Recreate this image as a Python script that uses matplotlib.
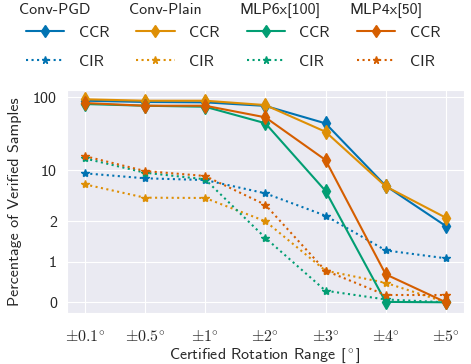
import numpy as np
import matplotlib.pyplot as plt
import seaborn as sns

# rotation ranges and verification results (percent of samples)
ranges = [r'$\pm0.1\!^\circ$', r'$\pm0.5\!^\circ$', r'$\pm1\!^\circ$', r'$\pm2\!^\circ$',
          r'$\pm3\!^\circ$', r'$\pm4\!^\circ$', r'$\pm5\!^\circ$']
models = ['Conv-PGD', 'Conv-Plain', 'MLP6x[100]', 'MLP4x[50]']

ccr_conv_pgd = [89.5, 86.0, 85.0, 76.0, 43.8, 6.1, 1.88]
ccr_conv_plain = [93.6, 89.5, 89.5, 78.0, 33.6, 6.0, 2.23]
ccr_mlp6 = [80.6, 76.4, 74.0, 44.0, 5.2, 0.01, 0.0]
ccr_mlp4 = [83.2, 76.4, 76.4, 53.0, 13.8, 0.69, 0.0]

cir_conv_pgd = [9.06, 7.74, 7.33, 4.82, 2.38, 1.28, 1.085]
cir_conv_plain = [6.4, 4.2, 4.16, 2.0, 0.78, 0.48, 0.0]
cir_mlp6 = [14.5, 9.24, 7.5, 1.59, 0.286, 0.07, 0.0]
cir_mlp4 = [15.6, 9.74, 8.32, 3.36, 0.78, 0.18, 0.18]

ccr = [ccr_conv_pgd, ccr_conv_plain, ccr_mlp6, ccr_mlp4]
cir = [cir_conv_pgd, cir_conv_plain, cir_mlp6, cir_mlp4]
colors = sns.color_palette('colorblind')[:4]

sns.set_style('darkgrid')
plt.rcParams['font.family'] = ['cmss10', 'DejaVu Sans']
plt.rcParams['mathtext.fontset'] = 'cm'
plt.rcParams['axes.unicode_minus'] = False

fs = 11.5
fig = plt.figure(figsize=(4.71, 3.64), dpi=100)
ax = fig.add_axes([0.1416, 0.1401, 0.8434, 0.6126])

x = np.arange(len(ranges))
handles = []
for name, c, a, b in zip(models, colors, ccr, cir):
    h1, = ax.plot(x, a, '-', marker='d', color=c, lw=1.5, ms=7, label='CCR')
    h2, = ax.plot(x, b, ':', marker='*', color=c, lw=1.5, ms=6, label='CIR')
    handles += [h1, h2]

ax.set_yscale('symlog', linthresh=2)
ax.set_ylim(-0.264, 125.4)
ax.set_yticks([0, 1, 2, 10, 100])
ax.set_yticklabels(['0', '1', '2', '10', '100'])
ax.yaxis.set_minor_locator(plt.NullLocator())
ax.set_xlim(-0.3, 6.3)
ax.set_xticks(x)
ax.set_xticklabels(ranges)
ax.tick_params(labelsize=fs)
ax.tick_params(axis='x', pad=8)
ax.set_xlabel(r'Certified Rotation Range [$^\circ$]', fontsize=fs, labelpad=1)
ax.set_ylabel('Percentage of Verified Samples', fontsize=fs, labelpad=8)

leg = fig.legend(handles=handles, ncol=4, loc='upper left', frameon=False,
                 bbox_to_anchor=(0.055, 0.93), fontsize=fs, handlelength=2.4,
                 handletextpad=0.9, columnspacing=1.7, labelspacing=0.92,
                 borderaxespad=0, borderpad=0, markerscale=0.85)

# model names above each legend column
fig.canvas.draw()
r = fig.canvas.get_renderer()
for i, name in enumerate(models):
    ext = leg.legend_handles[2 * i].get_window_extent(r)
    fig.text((ext.x0 - 3) / fig.bbox.width, 1 - 10 / fig.bbox.height, name,
             fontsize=fs, ha='left', va='center')

fig.savefig('out.png', dpi=100)
